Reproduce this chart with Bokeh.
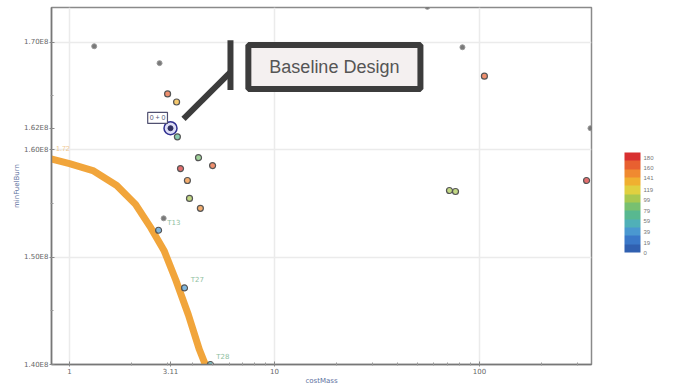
from bokeh.plotting import figure
from bokeh.models import (Range1d, FixedTicker, LinearColorMapper, ColorBar, Label,
                          ColumnDataSource, NumeralTickFormatter)
from bokeh.core.properties import value
from bokeh.embed import file_html
from bokeh.resources import INLINE

# ---------------- data ----------------
# coloured design points: x (log axis), y, colour value S
pts_x = [3.01, 3.33, 3.36, 4.26, 4.99, 3.48, 3.76, 3.85, 4.35, 2.72, 3.64, 4.87,
         71.4, 76.4, 333.0, 105.7]
pts_y = [1.6519e8, 1.6444e8, 1.612e8, 1.5926e8, 1.5852e8, 1.5824e8, 1.5713e8,
         1.5546e8, 1.5454e8, 1.525e8, 1.4713e8, 1.40e8,
         1.562e8, 1.5611e8, 1.5713e8, 1.6685e8]
pts_s = [170, 135, 70, 85, 165, 175, 150, 110, 150, 45, 40, 60,
         95, 110, 185, 160]

# grey (unrated) design points
grey_x = [1.32, 2.75, 82.6, 55.7, 348.0, 2.88]
grey_y = [1.6963e8, 1.6806e8, 1.6954e8, 1.733e8, 1.62e8, 1.5361e8]

# baseline design
base_x = [3.11]
base_y = [1.62e8]

# Pareto front (orange curve)
front_x = [0.80, 1.0, 1.3, 1.7, 2.1, 2.5, 2.9, 3.3, 3.8, 4.3, 4.7]
front_y = [1.5917e8, 1.587e8, 1.5806e8, 1.5667e8, 1.5491e8, 1.5269e8, 1.5056e8,
           1.4787e8, 1.4463e8, 1.4139e8, 1.3954e8]

# point tags
tag_x = [3.0, 3.9, 5.2]
tag_y = [1.532e8, 1.479e8, 1.407e8]
tag_text = ["T13", "T27", "T28"]

y_ticks = [1.4e8, 1.5e8, 1.6e8, 1.62e8, 1.7e8]
y_tick_labels = ["1.40E8", "1.50E8", "1.60E8", "1.62E8", "1.70E8"]
x_ticks = [1, 3.11, 10, 100]
x_tick_labels = ["1", "3.11", "10", "100"]
x_minor = [2, 3, 4, 5, 6, 7, 8, 9, 20, 30, 40, 50, 60, 70, 80, 90, 200, 300]
cb_ticks = [0, 19, 39, 59, 79, 99, 119, 141, 160, 180]

# callout geometry (data coordinates)
arrow_x0 = [3.60, 6.10]
arrow_y0 = [1.6287e8, 1.7019e8]
arrow_x1 = [6.10, 6.10]
arrow_y1 = [1.6722e8, 1.6556e8]

palette = ["#3060b0", "#3a78c8", "#4a98d0", "#50b0b8", "#58b890", "#78c070",
           "#a8c850", "#e0d040", "#f0b030", "#f08a30", "#e86030", "#d83030"]

# ---------------- figure ----------------
p = figure(width=670, height=387, output_backend="svg", toolbar_location=None,
           x_axis_type="log",
           x_range=Range1d(0.817, 352), y_range=Range1d(1.4e8, 1.7324e8),
           min_border_left=51, min_border_right=79, min_border_top=7,
           min_border_bottom=21)
p.background_fill_color = "white"
p.border_fill_color = "white"
p.outline_line_color = "#8a8a8a"
p.outline_line_width = 1.5

for ax in (p.xaxis[0], p.yaxis[0]):
    ax.axis_line_color = "#777777"
    ax.axis_line_width = 1.5
    ax.major_tick_line_color = "#888888"
    ax.minor_tick_line_color = "#999999"
    ax.major_tick_in = 3
    ax.major_tick_out = 2
    ax.minor_tick_in = 2
    ax.minor_tick_out = 1
    ax.major_label_text_font_size = "7px"
    ax.major_label_text_color = "#666666"
    ax.major_label_text_font = "DejaVu Sans"
    ax.major_label_standoff = 1
    ax.axis_label_text_font_size = "7px"
    ax.axis_label_text_font_style = "normal"
    ax.axis_label_text_color = "#6070a0"
    ax.axis_label_text_font = "DejaVu Sans"
    ax.axis_label_standoff = 0

p.xaxis.ticker = FixedTicker(ticks=x_ticks, minor_ticks=x_minor)
p.xaxis.formatter = NumeralTickFormatter(format="0")
p.xaxis.major_label_overrides = {t: l for t, l in zip(x_ticks, x_tick_labels)}
p.xaxis.axis_label = "costMass"
p.yaxis.ticker = FixedTicker(ticks=y_ticks,
                             minor_ticks=[1.45e8, 1.55e8, 1.65e8])
p.yaxis.major_label_overrides = {t: l for t, l in zip(y_ticks, y_tick_labels)}
p.yaxis.axis_label = "minFuelBurn"

p.xgrid.ticker = FixedTicker(ticks=[1, 10, 100])
p.ygrid.ticker = FixedTicker(ticks=[1.5e8, 1.6e8, 1.7e8])
p.grid.grid_line_color = "#ebebeb"
p.grid.grid_line_width = 1.5

# Pareto front
p.line(front_x, front_y, line_color="#f0a030", line_width=7, line_alpha=0.95)

# grey points
p.scatter(grey_x, grey_y, size=5, fill_color="#6a6a6a", line_color="#999999",
          line_width=1, fill_alpha=0.9)

# coloured points
src = ColumnDataSource(dict(x=pts_x, y=pts_y, s=pts_s))
mapper = LinearColorMapper(palette=palette, low=0, high=190)
p.scatter("x", "y", source=src, size=6,
          fill_color={"field": "s", "transform": mapper},
          line_color="#555555", line_width=1.2, fill_alpha=0.7)

# baseline
p.scatter(base_x, base_y, size=13, fill_color="#c8c8f0", fill_alpha=0.6,
          line_color="#303090", line_width=1.5)
p.scatter(base_x, base_y, size=5, fill_color="#303060", line_color="#303060")

# tags
p.text(tag_x, tag_y, text=tag_text, text_font_size="7px",
       text_color="#8fc0a0", text_font=value("DejaVu Sans"),
       text_baseline="middle")

# callout arrow
p.segment(arrow_x0, arrow_y0, arrow_x1, arrow_y1, line_color="#3c3c3c",
          line_width=6)

callout = Label(x=19.6, y=1.6769e8, text="Baseline Design", text_align="center",
                text_baseline="middle", text_font_size="18px",
                text_font="Liberation Sans", text_color="#555555",
                border_line_color="#3c3c3c", border_line_width=6,
                background_fill_color="#f4f0f0", padding=(21, 12))
p.add_layout(callout)

tag = Label(x=2.69, y=1.6296e8, text="0 + 0", text_align="center",
            text_baseline="middle", text_font_size="7px", text_color="#555577",
            border_line_color="#505070", border_line_width=1.2,
            background_fill_color="white", padding=2)
p.add_layout(tag)

curve_lab = Label(x=0.86, y=1.601e8, text="1.72", text_font_size="7px",
                  text_color="#f0c890", text_baseline="middle")
p.add_layout(curve_lab)

# colour bar
cb = ColorBar(color_mapper=mapper, ticker=FixedTicker(ticks=cb_ticks),
              width=16, height=100, location=(31, 110),
              major_label_text_font_size="6px", major_label_text_color="#777777",
              major_tick_line_color=None, bar_line_color=None,
              background_fill_alpha=0, border_line_color=None, padding=2,
              label_standoff=3)
p.add_layout(cb, "right")

open("out.html", "w").write(file_html(p, INLINE))
